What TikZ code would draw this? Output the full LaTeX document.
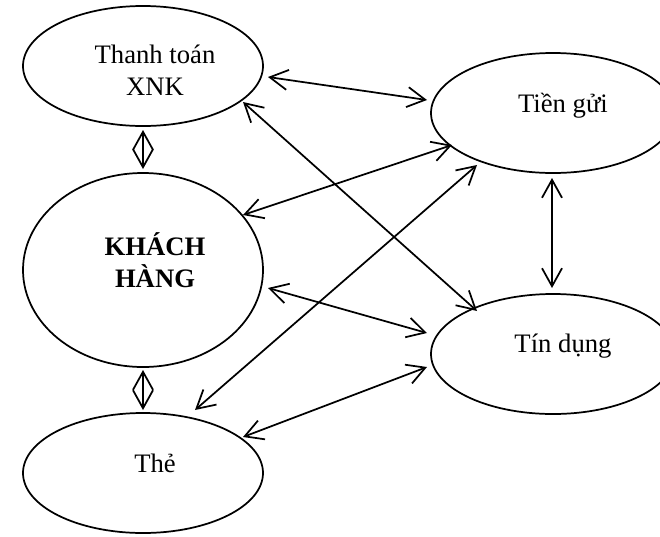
\documentclass[tikz,border=0pt]{standalone}
\usepackage{fontspec}
\setmainfont{Liberation Serif}
\usetikzlibrary{shapes.geometric,arrows.meta}
\begin{document}
\begin{tikzpicture}[x=0.75pt,y=-0.75pt,
  oval/.style={draw, ellipse, line width=1.3pt, inner sep=0pt, minimum width=180pt, minimum height=90pt},
  lbl/.style={font=\fontsize{20}{24}\selectfont, align=center, inner sep=0pt, anchor=base},
  dbl/.style={line width=1.3pt, {Straight Barb[length=13.5pt,width=15pt]}-{Straight Barb[length=13.5pt,width=15pt]}}]
\useasboundingbox (0,0) rectangle (660,536);
% ovals
\node[oval] (tt) at (143,66) {};
\node[oval, minimum height=145.5pt] (kh) at (143,270) {};
\node[oval] (the) at (143,473) {};
\node[oval, minimum width=183pt] (tg) at (553,113) {};
\node[oval, minimum width=183pt] (td) at (553,354) {};
% labels
\node[lbl] (ttl) at (155,95) {Thanh toán\\XNK};
\node[lbl, font=\fontsize{20}{24}\selectfont\bfseries] (khl) at (155,287) {KHÁCH\\HÀNG};
\node[lbl] (thel) at (155,472) {Thẻ};
\node[lbl] (tgl) at (563,112) {Tiền gửi};
\node[lbl] (tdl) at (563,352) {Tín dụng};
% connectors
\draw[dbl] ([shift={(125,11)}]tt.center) -- ([shift={(-126,-13)}]tg.center);
\draw[dbl] ([shift={(100,36)}]tt.center) -- ([shift={(-76,-43)}]td.center);
\draw[dbl] ([shift={(100,-55)}]kh.center) -- ([shift={(-101,32)}]tg.center);
\draw[dbl] ([shift={(125,18)}]kh.center) -- ([shift={(-126,-21)}]td.center);
\draw[dbl] ([shift={(52,-63)}]the.center) -- ([shift={(-76,52)}]tg.center);
\draw[dbl] ([shift={(100,-36)}]the.center) -- ([shift={(-126,13)}]td.center);
\draw[dbl] ([shift={(-1,65)}]tg.center) -- ([shift={(-1,-66)}]td.center);
\draw[dbl] ([shift={(0,64)}]tt.center) -- ([shift={(0,-101)}]kh.center);
\draw[dbl] ([shift={(0,100)}]kh.center) -- ([shift={(0,-63)}]the.center);
\end{tikzpicture}
\end{document}
